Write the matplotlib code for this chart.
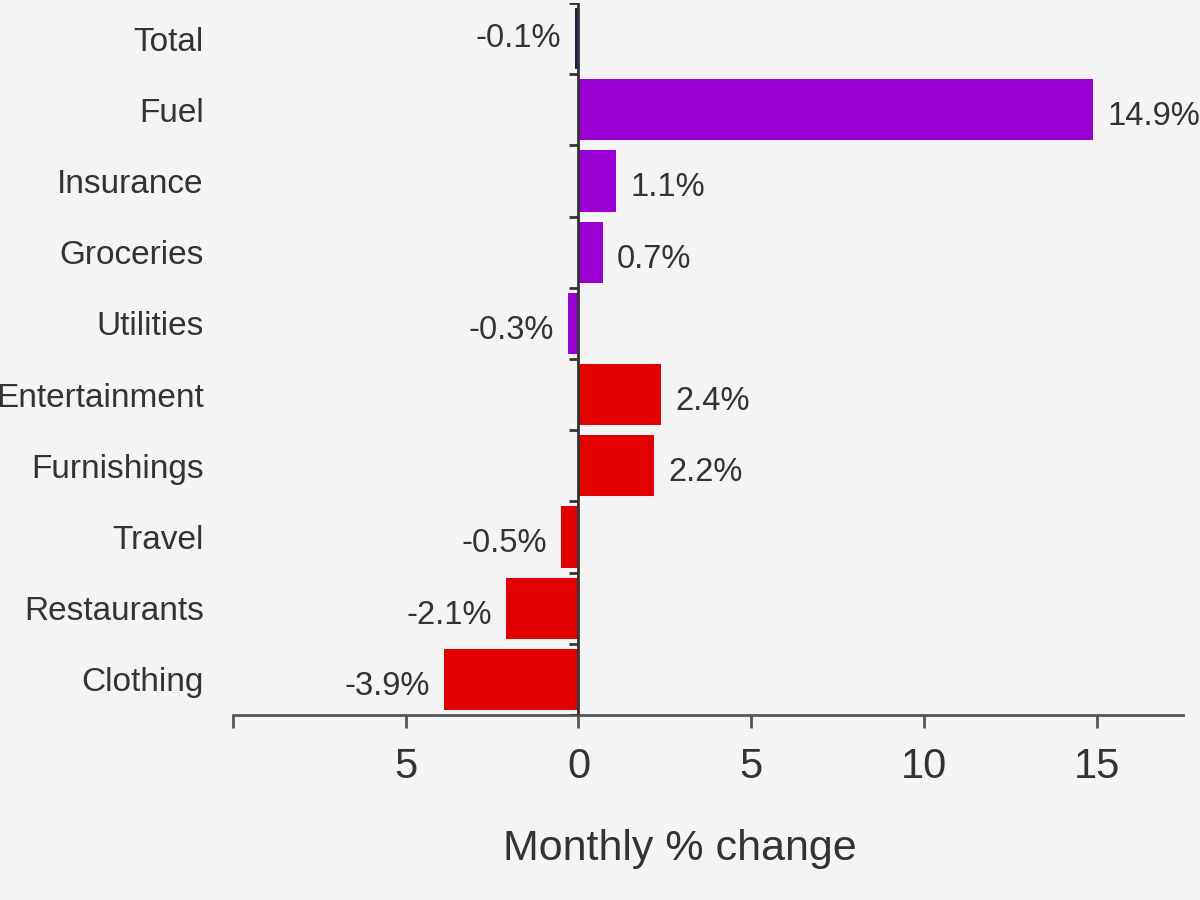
import matplotlib
matplotlib.use('Agg')
import matplotlib.pyplot as plt
import numpy as np

categories = ['Total', 'Fuel', 'Insurance', 'Groceries', 'Utilities',
              'Entertainment', 'Furnishings', 'Travel', 'Restaurants', 'Clothing']
values = [-0.1, 14.9, 1.1, 0.7, -0.3, 2.4, 2.2, -0.5, -2.1, -3.9]
groups = ['total', 'purple', 'purple', 'purple', 'purple',
          'red', 'red', 'red', 'red', 'red']
xticks = [-10, -5, 0, 5, 10, 15]
xtick_labels = ['', '5', '0', '5', '10', '15']

group_colors = {'total': '#1d1b4c', 'purple': '#9b00d3', 'red': '#e20000'}
text_col = '#333333'
bg = '#f4f4f4'

plt.rcParams['font.family'] = ['Liberation Sans', 'DejaVu Sans']

fig = plt.figure(figsize=(12, 9), dpi=100, facecolor=bg)
ax = fig.add_axes([233 / 1200, 1 - 715 / 900, 950 / 1200, 712 / 900])
ax.set_facecolor(bg)

y = np.arange(len(categories))
cols = [group_colors[g] for g in groups]
ax.barh(y, values, height=0.86, color=cols, zorder=2)

# value labels
for yi, v in zip(y, values):
    dy = 0 if yi == 0 else -5
    if v >= 0:
        ax.annotate(f'{v:.1f}%', (v, yi), xytext=(10, dy), textcoords='offset points',
                    ha='left', va='center', fontsize=23.5, color=text_col)
    else:
        ax.annotate(f'{v:.1f}%', (v, yi), xytext=(-10, dy), textcoords='offset points',
                    ha='right', va='center', fontsize=23.5, color=text_col)

ax.set_xlim(-10, 17.5)
ax.set_ylim(len(categories) - 0.5, -0.5)

# zero line with small ticks at category boundaries
ax.axvline(0, color='#333333', lw=2, zorder=3)
ax.hlines(np.arange(-0.5, len(categories)), -0.27, 0, color='#333333', lw=2, zorder=3)

ax.set_yticks(y, categories)
ax.tick_params(axis='y', length=0, pad=21, labelsize=24, labelcolor=text_col)
ax.set_xticks(xticks, xtick_labels)
ax.tick_params(axis='x', length=9, width=2, color='#555555', pad=14,
               labelsize=30, labelcolor=text_col)

for s in ['left', 'right', 'top']:
    ax.spines[s].set_visible(False)
ax.spines['bottom'].set_color('#555555')
ax.spines['bottom'].set_linewidth(2)

fig.text(680 / 1200, 1 - 849 / 900, 'Monthly % change', ha='center', va='center',
         fontsize=31, color=text_col)

fig.savefig('out.png', dpi=100, facecolor=bg)
